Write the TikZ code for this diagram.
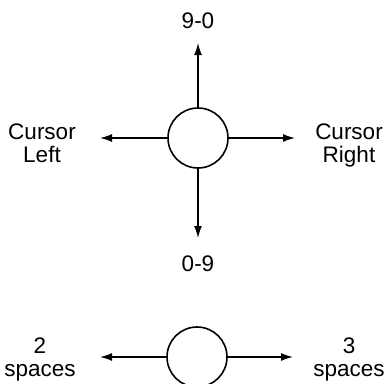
\documentclass[tikz,border=0pt]{standalone}
\usepackage{fontspec}
\setmainfont{Liberation Sans}
\usetikzlibrary{arrows.meta}
\begin{document}
\begin{tikzpicture}[x=1pt,y=-1pt,
  lbl/.style={font=\fontsize{22.5}{23}\selectfont, align=center, inner sep=0pt, anchor=base},
  knob/.style={circle, draw, line width=1.6pt, minimum size=60pt, inner sep=0pt},
  arr/.style={line width=1.4pt, -{Latex[length=12pt,width=8pt]}}]
\useasboundingbox (0,0) rectangle (390,383);
\node[knob] (c1) at (198,138) {};
\coordinate (up) at (198,43);
\coordinate (dn) at (198,238);
\coordinate (lf) at (100,138);
\coordinate (rt) at (295,138);
\draw[arr] (c1.north) -- (up);
\draw[arr] (c1.south) -- (dn);
\draw[arr] (c1.west) -- (lf);
\draw[arr] (c1.east) -- (rt);
\node[lbl] (t90) at (198,28) {9-0};
\node[lbl] (t09) at (198,271) {0-9};
\node[lbl] (cl) at (42,162) {Cursor\\Left};
\node[lbl] (cr) at (349,162) {Cursor\\Right};
\node[knob] (c2) at (197,357) {};
\coordinate (lf2) at (100,357);
\coordinate (rt2) at (293,357);
\draw[arr] (c2.west) -- (lf2);
\draw[arr] (c2.east) -- (rt2);
\node[lbl] (s2) at (40,376) {2\\spaces};
\node[lbl] (s3) at (349,376) {3\\spaces};
\end{tikzpicture}
\end{document}
